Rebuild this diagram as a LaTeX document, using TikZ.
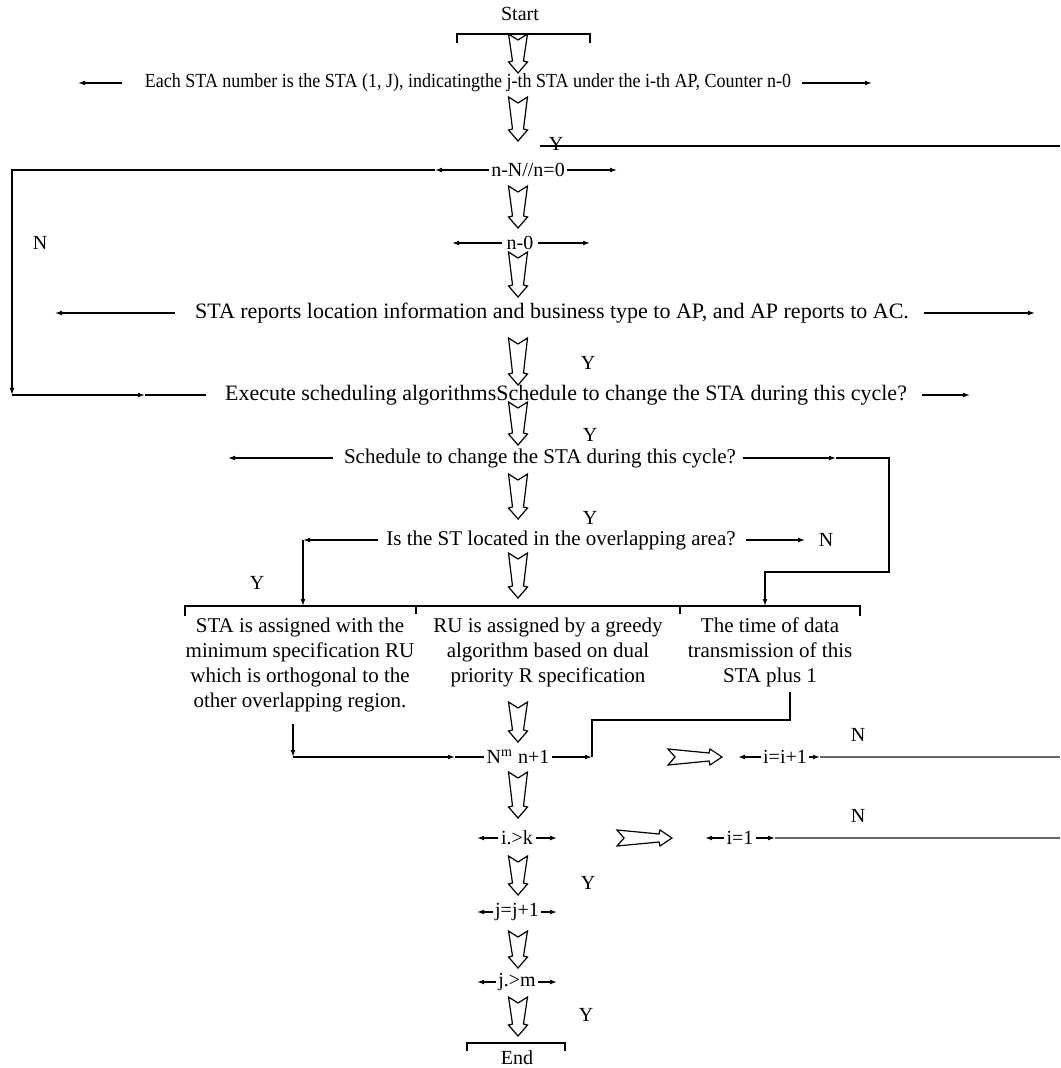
\documentclass[tikz,border=0pt]{standalone}
\usepackage{fontspec}
\setmainfont{Liberation Serif}
\usetikzlibrary{positioning,arrows.meta}

\tikzset{
  hdown/.pic={
    \draw[hollow] (-9.5,0) -- (0,6) -- (9.5,0) -- (5.5,#1-12) -- (9.5,#1-11)
      -- (0,#1) -- (-9.5,#1-11) -- (-5.5,#1-12) -- cycle;
  },
  hright/.pic={
    \draw[hollow] (0,-8) -- (7,0) -- (0,8) -- (#1-13,4) -- (#1-12,8)
      -- (#1,0) -- (#1-12,-8) -- (#1-13,-4) -- cycle;
  }
}

\begin{document}
\begin{tikzpicture}[
  x=0.5pt, y=-0.5pt,
  >={Latex[length=3.5pt,width=2.4pt]},
  line width=0.6pt,
  row/.style={font=\fontsize{10}{12}\selectfont, inner sep=2pt},
  wide/.style={font=\fontsize{#1}{12}\selectfont},
  yn/.style={font=\fontsize{10}{12}\selectfont, inner sep=0pt},
  boxtext/.style={font=\fontsize{10.5}{12.5}\selectfont, align=center,
    inner sep=0pt, anchor=north},
  hollow/.style={draw, fill=white, line width=0.6pt, line join=miter},
  back/.style={draw=black!60, line width=1pt}
]
\useasboundingbox (0,0) rectangle (1060,1068);

% start
\node[row] (start) at (520,14) {Start};
\draw (457,43) |- (590,34) -- (590,43);
\pic at (518,34) {hdown=39};

% numbering
\node[row] (r1) at (468,83) {\scalebox{0.9}[1]{Each STA number is the STA (1, J), indicatingthe j-th STA under the i-th AP, Counter n-0}};
\coordinate (r1l) at (78,83);
\coordinate (r1r) at (872,83);
\draw[->, shorten <=9pt] (r1.west) -- (r1l);
\draw[->, shorten <=3pt] (r1.east) -- (r1r);
\pic at (518,97) {hdown=44};

\coordinate (yl) at (540,146);
\coordinate (yr) at (1060,146);
\draw (yl) -- (yr);
\node[yn] (y1) at (556,144) {Y};

% n test
\node[row, inner sep=1pt] (r2) at (528,170) {n-N//n=0};
\coordinate (r2a) at (435,170);
\coordinate (r2b) at (12,395);
\coordinate (r2c) at (145,395);
\coordinate (r2r) at (617,170);
\node[yn] (n1) at (40,243) {N};
\pic at (518,186) {hdown=42};

\node[row] (r3) at (520,243) {n-0};
\coordinate (r3l) at (452,243);
\coordinate (r3r) at (590,243);
\draw[->] (r3.west) -- (r3l);
\draw[->] (r3.east) -- (r3r);
\pic at (518,252) {hdown=45};

% report
\node[row, wide=11] (r4) at (552,313) {STA reports location information and business type to AP, and AP reports to AC.};
\coordinate (r4l) at (55,313);
\coordinate (r4r) at (1035,313);
\draw[->, shorten <=8pt] (r4.west) -- (r4l);
\draw[->, shorten <=5pt] (r4.east) -- (r4r);
\pic at (518,338) {hdown=47};
\node[yn] (y2) at (588,363) {Y};

% scheduling
\node[row, wide=11] (r5) at (566,395) {Execute scheduling algorithmsSchedule to change the STA during this cycle?};
\coordinate (r5r) at (970,395);
\draw[->, shorten <=5pt] (r5.east) -- (r5r);

\draw[->] (r2.west) -- (r2a);
\draw[->] (r2a) -| (r2b);
\draw[->] (r2b) -- (r2c);
\draw[shorten >=7pt] (r2c) -- (r5.west);
\draw[->] (r2.east) -- (r2r);
\pic at (518,402) {hdown=43};
\node[yn] (y3) at (590,435) {Y};

% change
\node[row, wide=10.5] (r6) at (540,458) {Schedule to change the STA during this cycle?};
\coordinate (r6l) at (228,458);
\coordinate (r6a) at (836,458);
\coordinate (r6c) at (889,572);
\coordinate (b3in) at (765,606);
\draw[->, shorten <=3pt] (r6.west) -- (r6l);
\draw[->, shorten <=1pt] (r6.east) -- (r6a);
\draw[->] (r6a) -| (r6c) -| (b3in);
\pic at (518,474) {hdown=45};
\node[yn] (y4) at (590,518) {Y};

% overlap
\node[row, wide=10.5] (r7) at (561,540) {Is the ST located in the overlapping area?};
\coordinate (r7a) at (303,540);
\coordinate (b1in) at (303,606);
\coordinate (r7r) at (805,540);
\draw[->, shorten <=2pt] (r7.west) -- (r7a);
\draw[->] (r7a) -- (b1in);
\draw[->, shorten <=3pt] (r7.east) -- (r7r);
\node[yn] (n2) at (826,540) {N};
\node[yn] (y5) at (257,583) {Y};
\pic at (518,553) {hdown=45};

% three cases
\draw (185,616) |- (860,606) -- (860,616);
\draw (416,606) -- (416,614);
\draw (680,606) -- (680,614);
\node[boxtext] (b1) at (300,617) {STA is assigned with the\\minimum specification RU\\which is orthogonal to the\\other overlapping region.};
\node[boxtext] (b2) at (548,617) {RU is assigned by a greedy\\algorithm based on dual\\priority R specification};
\node[boxtext] (b3) at (770,617) {The time of data\\transmission of this\\STA plus 1};
\pic at (518,702) {hdown=40};

% counter
\node[row, fill=white, inner sep=1pt] (nm) at (518,757) {N\textsuperscript{m} n+1};
\coordinate (b1o) at (293,724);
\coordinate (b1c) at (293,757);
\coordinate (b1d) at (455,757);
\draw[->] (b1o) -- (b1c);
\draw[->] (b1c) -- (b1d);
\draw (b1d) -- (nm.west);
\coordinate (b3o) at (790,692);
\coordinate (b3m) at (592,720);
\coordinate (b3c) at (592,757);
\draw (b3o) |- (b3m) -- (b3c);
\draw[->] (nm.east) -- (b3c);
\pic at (668,757) {hright=54};

\node[row, inner sep=1pt] (ii) at (785,757) {i=i+1};
\coordinate (iil) at (738,757);
\coordinate (iir) at (820,757);
\coordinate (iie) at (1060,757);
\draw[->] (ii.west) -- (iil);
\draw[->] (ii.east) -- (iir);
\draw[back] (iir) -- (iie);
\node[yn] (n3) at (858,735) {N};
\pic at (518,772) {hdown=46};

% i test
\node[row, inner sep=1pt] (ik) at (517,838) {i.>k};
\coordinate (ikl) at (477,838);
\coordinate (ikr) at (557,838);
\draw[->] (ik.west) -- (ikl);
\draw[->] (ik.east) -- (ikr);
\pic at (617,838) {hright=55};

\node[row, inner sep=1pt] (i1) at (740,838) {i=1};
\coordinate (i1l) at (705,838);
\coordinate (i1r) at (775,838);
\coordinate (i1e) at (1060,838);
\draw[->] (i1.west) -- (i1l);
\draw[->] (i1.east) -- (i1r);
\draw[back] (i1r) -- (i1e);
\node[yn] (n4) at (858,816) {N};
\pic at (518,856) {hdown=39};
\node[yn] (y6) at (588,883) {Y};

% j
\node[row, fill=white, inner sep=1pt] (jj) at (517,912) {j=j+1};
\coordinate (jjl) at (477,912);
\coordinate (jjr) at (557,912);
\draw[->] (jj.west) -- (jjl);
\draw[->] (jj.east) -- (jjr);
\pic at (518,931) {hdown=37};

\node[row, inner sep=1pt] (jm) at (517,982) {j.>m};
\coordinate (jml) at (477,982);
\coordinate (jmr) at (557,982);
\draw[->] (jm.west) -- (jml);
\draw[->] (jm.east) -- (jmr);
\pic at (518,997) {hdown=39};
\node[yn] (y7) at (586,1015) {Y};

% end
\draw (467,1051) |- (565,1043) -- (565,1051);
\node[row] (stop) at (517,1058) {End};
\end{tikzpicture}
\end{document}
